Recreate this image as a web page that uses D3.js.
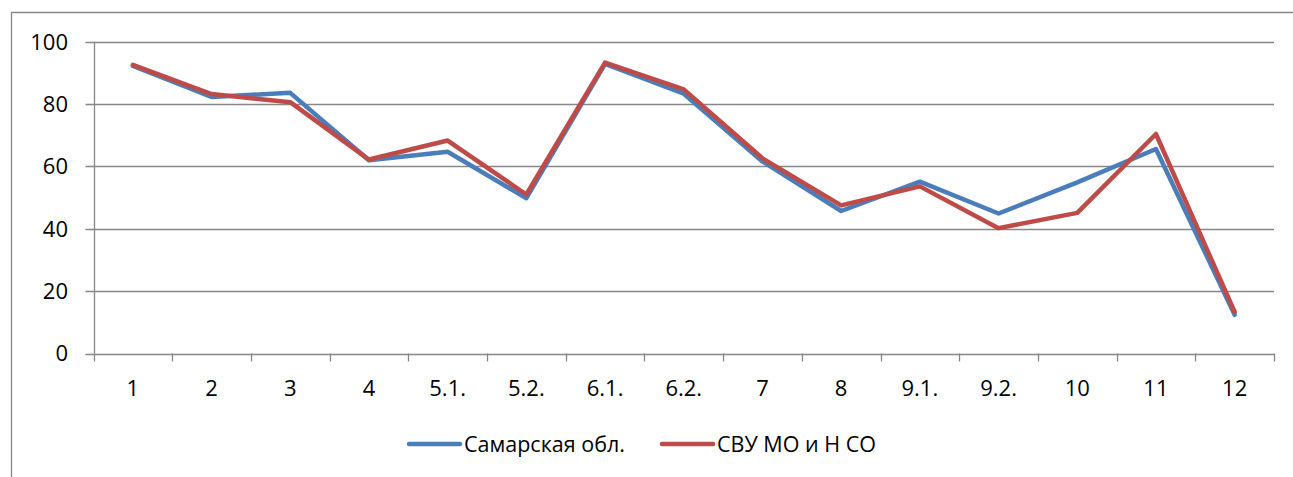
<!DOCTYPE html>
<meta charset="utf-8">
<style>
body { margin: 0; background: #fff; }
svg { display: block; }
text { font-family: "Open Sans", sans-serif; fill: #000; }
.grid line { stroke: #878787; stroke-width: 1.3px; }
.series { fill: none; stroke-width: 4.5px; stroke-linejoin: round; stroke-linecap: round; }
</style>
<body>
<script src="https://d3js.org/d3.v7.min.js"></script>
<script>

var categories = ["1", "2", "3", "4", "5.1.", "5.2.", "6.1.", "6.2.", "7", "8", "9.1.", "9.2.", "10", "11", "12"];
var samara = [92.2, 82.3, 83.6, 62.0, 64.7, 49.8, 92.9, 83.3, 61.6, 45.7, 55.1, 44.9, 54.9, 65.6, 12.4];
var svu    = [92.6, 83.2, 80.6, 62.2, 68.3, 51.0, 93.3, 84.7, 62.6, 47.5, 53.6, 40.2, 45.1, 70.4, 13.3];
var seriesNames = ["Самарская обл.", "СВУ МО и Н СО"];
var seriesColors = ["#4A7EBB", "#BE4B48"];
var yTicks = [0, 20, 40, 60, 80, 100];

var W = 1293, H = 477;
var plotL = 93.5, plotR = 1274, plotT = 41.7, plotB = 353.5;

var svg = d3.select("body").append("svg")
    .attr("width", W)
    .attr("height", H);

// outer chart border (runs off the right and bottom of the picture)
svg.append("path")
    .attr("d", "M11.5,480 V12.5 H1300")
    .attr("fill", "none")
    .attr("stroke", "#878787")
    .attr("stroke-width", 1.3);

var x = d3.scaleBand().domain(categories).range([plotL, plotR]);
var y = d3.scaleLinear().domain([0, 100]).range([plotB, plotT]);

// horizontal grid
svg.append("g").attr("class", "grid")
    .selectAll("line").data(yTicks).enter().append("line")
    .attr("x1", plotL - 8).attr("x2", plotR)
    .attr("y1", function(d) { return Math.round(y(d)) + 0.5; })
    .attr("y2", function(d) { return Math.round(y(d)) + 0.5; });

// y axis line
svg.append("g").attr("class", "grid").append("line")
    .attr("x1", Math.round(plotL) + 0.5).attr("x2", Math.round(plotL) + 0.5)
    .attr("y1", plotT).attr("y2", plotB);

// x ticks between categories
var xTickPos = categories.map(function(c) { return x(c); }).concat([plotR]);
svg.append("g").attr("class", "grid")
    .selectAll("line").data(xTickPos).enter().append("line")
    .attr("x1", function(d) { return Math.round(d) + 0.5; })
    .attr("x2", function(d) { return Math.round(d) + 0.5; })
    .attr("y1", plotB).attr("y2", plotB + 8);

// y labels
svg.append("g").selectAll("text").data(yTicks).enter().append("text")
    .attr("x", 68)
    .attr("y", function(d) { return y(d); })
    .attr("dy", "0.36em")
    .attr("text-anchor", "end")
    .style("font-size", "22px")
    .text(function(d) { return d; });

// x labels
svg.append("g").selectAll("text").data(categories).enter().append("text")
    .attr("x", function(d) { return x(d) + x.bandwidth() / 2; })
    .attr("y", 388)
    .attr("dy", "0.36em")
    .attr("text-anchor", "middle")
    .style("font-size", "22px")
    .text(function(d) { return d; });

var line = d3.line()
    .x(function(d, i) { return x(categories[i]) + x.bandwidth() / 2; })
    .y(function(d) { return y(d); });

[samara, svu].forEach(function(s, i) {
    svg.append("path")
        .attr("class", "series")
        .attr("stroke", seriesColors[i])
        .attr("d", line(s));
});

// legend
var legendX = [409, 662];
seriesNames.forEach(function(name, i) {
    var g = svg.append("g").attr("transform", "translate(" + legendX[i] + ",444)");
    g.append("line")
        .attr("x1", 0).attr("x2", 51)
        .attr("stroke", seriesColors[i])
        .attr("stroke-width", 4.5)
        .attr("stroke-linecap", "round");
    g.append("text")
        .attr("x", 55)
        .attr("dy", "0.36em")
        .style("font-size", "21.5px")
        .text(name);
});

</script>
</body>
